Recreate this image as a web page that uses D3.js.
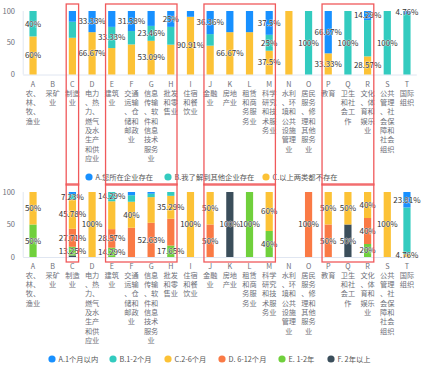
<!DOCTYPE html>
<html><head><meta charset="utf-8">
<script src="https://cdn.jsdelivr.net/npm/d3@7/dist/d3.min.js"></script>
<style>
html,body{margin:0;padding:0;background:#fff;}
svg{display:block;font-family:"Noto Sans CJK SC","Noto Sans",sans-serif;}
</style></head>
<body><svg id="c" width="423" height="371"></svg>
<script>
// ---------- data ----------
const codes = ["A","B","C","D","E","F","G","H","I","J","K","L","M","N","O","P","Q","R","S","T"];
const names = ["农、林、牧、渔业","采矿业","制造业","电力、热力、燃气及水生产和供应业","建筑业","交通运输、仓储和邮政业","信息传输、软件和信息技术服务业","批发和零售业","住宿和餐饮业","金融业","房地产业","租赁和商务服务业","科学研究和技术服务业","水利、环境和公共设施管理业","居民服务、修理和其他服务业","教育","卫生和社会工作","文化、体育和娱乐业","公共管理、社会保障和社会组织","国际组织"];

// top chart: existence
const topNames = ["A.您所在企业存在","B.我了解到其他企业存在","C.以上两类都不存在"];
const topA = [0, null, 16.87, 33.33, 25,    31.58, 23.46, 25, 9.09, 36.36, 33.33, 33.33, 37.5, 0,   0,   66.67, 0,   14.29, 0,   4.76];
const topB = [40, null, 25.3, 0,    33.33, 21.05, 23.46, 28, 0,    18.18, 0,     0,     25,   0,   100, 0,     100, 57.14, 100, 95.24];
const topC = [60, null, 57.83,66.67,41.67, 47.37, 53.09, 47, 90.91,45.45, 66.67, 66.67, 37.5, 100, 0,   33.33, 0,   28.57, 0,   0];
const topShown = ["A:B","A:C","D:A","D:C","E:B","F:A","G:B","G:C","H:A","I:C","J:A","K:C","M:A","M:B","M:C","O:B","P:A","P:C","Q:B","R:A","R:C","S:B","T:A"];

// bottom chart: duration
const botNames = ["A.1个月以内","B.1-2个月","C.2-6个月","D. 6-12个月","E. 1-2年","F. 2年以上"];
const botA = [0, null, 3.61, 0, 0,     5,  2.63, 0,    0, 0,  0,   0,   0,  null, 0,   0,  0,  0,  0,   23.81];
const botB = [0, null, 7.23, 0, 14.29, 10, 5.26, 5.88, 0, 0,  0,   0,   0,  null, 0,   0,  0,  0,  0,   71.43];
const botC = [50, null,45.78,100,42.86, 40, 39.48,35.29,100,50, 0,   0,   60, null, 0,   50, 50, 40, 100, 4.76];
const botD = [0, null, 27.71,0, 28.57, 45, 52.63,41.18,0, 50, 0,   0,   0,  null, 100, 50, 0,  40, 0,   0];
const botE = [50, null,13.25,0, 14.29, 0,  0,    17.65,0, 0,  0,   100, 40, null, 0,   0,  0,  20, 0,   0];
const botF = [0, null, 2.41, 0, 0,     0,  0,    0,    0, 0,  100, 0,   0,  null, 0,   0,  50, 0,  0,   0];
const botShown = ["A:C","A:E","C:B","C:C","C:D","C:E","D:C","E:B","E:D","E:E","F:C","G:D","H:C","H:E","I:C","J:C","J:D","K:F","L:E","M:C","M:E","O:D","P:C","P:D","Q:C","Q:F","R:C","R:D","R:E","S:C","T:A","T:C"];

const yTicks = [0, 50, 100];
const boxGroups = [["C","C"],["E","H"],["J","M"],["P","R"]];

// ---------- styles ----------
const colors = {A:"#1890ff", B:"#33cbbf", C:"#fcc236", D:"#fa7a45", E:"#70d03c", F:"#3b4e5b"};
const axisColor = "#6e7079";
const lineColor = "#e0e6f1";
const boxColor = "#f0595b";

const svg = d3.select("#c");
const x = d3.scaleBand().domain(codes).range([23.2, 416.8]);
const barW = 7.2;

function splitName(s){ const out=[]; const ch=Array.from(s); for(let i=0;i<ch.length;i+=2) out.push(ch.slice(i,i+2).join("")); return out; }
function fmt(v){ return (+v.toFixed(2)) + "%"; }

function drawChart(cfg){
  const y = d3.scaleLinear().domain([0,100]).range([cfg.y0, cfg.y1]);
  const g = svg.append("g");
  // axes lines
  g.append("line").attr("x1",23.2).attr("x2",23.2).attr("y1",cfg.y1).attr("y2",cfg.y0).attr("stroke",lineColor).attr("stroke-width",1);
  g.append("line").attr("x1",23.2).attr("x2",416.8).attr("y1",cfg.y0+0.5).attr("y2",cfg.y0+0.5).attr("stroke",lineColor).attr("stroke-width",1);
  // y tick labels
  g.selectAll("text.yt").data(yTicks).join("text").attr("class","yt")
    .attr("x",15).attr("y",d=>y(d)).attr("dy","0.35em").attr("text-anchor","end")
    .attr("font-size",7.5).attr("fill",axisColor).text(d=>d);
  // stacked bars
  const rows = codes.map((c,i)=>{ const r={code:c}; cfg.keys.forEach((k,j)=>{ r[k]=cfg.series[j][i]||0; }); r.empty = cfg.series.every(s=>s[i]==null); return r; });
  const stack = d3.stack().keys(cfg.keys)(rows);
  stack.forEach(layer=>{
    g.append("g").selectAll("rect").data(layer.filter(d=>!d.data.empty && d[1]-d[0]>0)).join("rect")
      .attr("x",d=>x(d.data.code)+x.bandwidth()/2-barW/2).attr("width",barW)
      .attr("y",d=>y(d[1])).attr("height",d=>y(d[0])-y(d[1]))
      .attr("fill",colors[layer.key]);
  });
  stack.forEach(layer=>{
    const vis = layer.filter(d=>!d.data.empty && d[1]-d[0]>0 && cfg.shown.includes(d.data.code+":"+layer.key));
    g.append("g").selectAll("text").data(vis).join("text")
      .attr("x",d=>x(d.data.code)+x.bandwidth()/2).attr("y",d=>y((d[0]+d[1])/2)).attr("dy","0.35em")
      .attr("text-anchor","middle").attr("font-size",8).attr("fill","#333")
      .attr("stroke","#fff").attr("stroke-width",0.6).attr("paint-order","stroke")
      .text(d=>fmt(d[1]-d[0]));
  });
  // category labels
  codes.forEach((c,i)=>{
    const lines=[c].concat(splitName(names[i]));
    const t=g.append("text").attr("text-anchor","middle").attr("font-size",7.2).attr("fill",axisColor);
    lines.forEach((l,j)=>t.append("tspan").attr("x",x(c)+x.bandwidth()/2).attr("y",cfg.labY+j*9.3).attr("dy","0.35em").text(l));
  });
  // legend
  cfg.legend.forEach((name,i)=>{
    const lx=cfg.legX[i];
    g.append("circle").attr("cx",lx).attr("cy",cfg.legY).attr("r",3.6).attr("fill",colors[cfg.legKeys[i]]);
    g.append("text").attr("x",lx+6.5).attr("y",cfg.legY).attr("dy","0.35em").attr("font-size",7.3).attr("fill","#555").text(name);
  });
  // red boxes
  boxGroups.forEach(([a,b])=>{
    const xa=x(a)+x.bandwidth()/2-6.2, xb=x(b)+x.bandwidth()/2+6.2;
    g.append("rect").attr("x",xa).attr("y",cfg.boxTop).attr("width",xb-xa).attr("height",cfg.boxBot-cfg.boxTop)
      .attr("fill","none").attr("stroke",boxColor).attr("stroke-width",1.3);
  });
}

drawChart({y0:74.5,y1:11,keys:["C","B","A"],series:[topC,topB,topA],shown:topShown,labY:84,
  legend:topNames,legKeys:["A","B","C"],legX:[89,168,266],legY:177,boxTop:4,boxBot:185});
drawChart({y0:257,y1:192,keys:["F","E","D","C","B","A"],series:[botF,botE,botD,botC,botB,botA],shown:botShown,labY:266,
  legend:botNames,legKeys:["A","B","C","D","E","F"],legX:[52,113,168,222,282,331],legY:359,boxTop:184,boxBot:262});
</script></body></html>
